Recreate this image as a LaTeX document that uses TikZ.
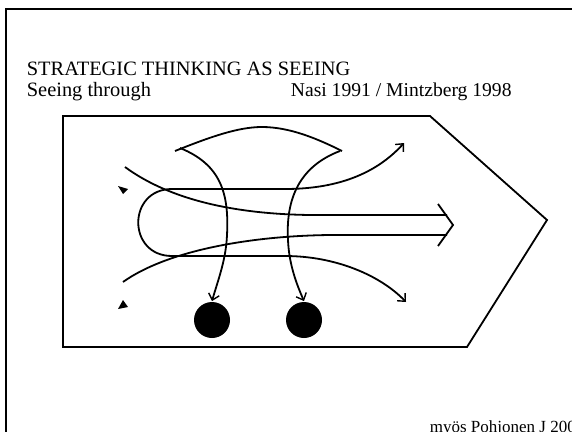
\documentclass[tikz,border=0pt]{standalone}
\usepackage{fontspec}
\setmainfont{Liberation Serif}
\usepackage{tikz}
\usetikzlibrary{arrows.meta}

\begin{document}
\begin{tikzpicture}[x=1pt, y=-1pt, line width=1.8pt,
        txt/.style = {anchor=base west, inner sep=0pt, font=\fontsize{20.4}{24}\selectfont},
        blob/.style = {circle, fill, inner sep=0pt, minimum size=36pt},
        barb/.style = {-{Straight Barb[length=6pt,width=11pt,line width=1.4pt]}},
        bothbarb/.style = {{Straight Barb[length=6pt,width=11pt,line width=1.4pt]}-{Straight Barb[length=6pt,width=11pt,line width=1.4pt]}}]
            \useasboundingbox (0,0) rectangle (572,431);
            \draw[line width=2.6pt] (6,600) |- (700,9);

            \node[txt] (title) at (26,75) {STRATEGIC THINKING AS SEEING};
            \node[txt] (sub) at (26,96) {Seeing through};
            \node[txt, font=\fontsize{19.6}{24}\selectfont] (src) at (290,96) {Nasi 1991 / Mintzberg 1998};
            \node[txt, font=\fontsize{17}{20}\selectfont] (note) at (429,432) {myös Pohjonen J 2001};

            % the arrow-shaped frame
            \draw (63,116) -- (430,116) -- (547,220) -- (467,347) -- (63,347) -- cycle;

            \node[blob] (d1) at (212,320) {};
            \node[blob] (d2) at (304,320) {};

            % funnel top and the two drops
            \draw (175,151) .. controls (210,137) and (238,127) .. (262,127)
                            .. controls (290,127) and (318,139) .. (342,151);
            \draw[barb] (180,148) .. controls (222,165) and (229,195) .. (227,235)
                                  .. controls (226,260) and (218,280) .. (d1.north);
            \draw[barb] (340,151) .. controls (295,168) and (286,205) .. (288,240)
                                  .. controls (289,265) and (297,285) .. (d2.north);

            % the loop
            \draw[bothbarb] (404,143) .. controls (375,175) and (335,189) .. (285,189)
                -- (172,189) .. controls (127,189) and (127,256) .. (172,256)
                -- (285,256) .. controls (335,256) and (380,275) .. (406,302);

            % the double arrow
            \draw (125,167) .. controls (170,200) and (235,214) .. (310,215) -- (447,215);
            \draw (123,282) .. controls (165,252) and (245,236) .. (330,235) -- (447,235);
            \draw (438,204) -- (453,225) -- (438,246);

            \fill (118,186) -- (128,189) -- (123,194) -- cycle;
            \fill (123,300) -- (128,307) -- (118,309) -- cycle;
        \end{tikzpicture}
\end{document}
